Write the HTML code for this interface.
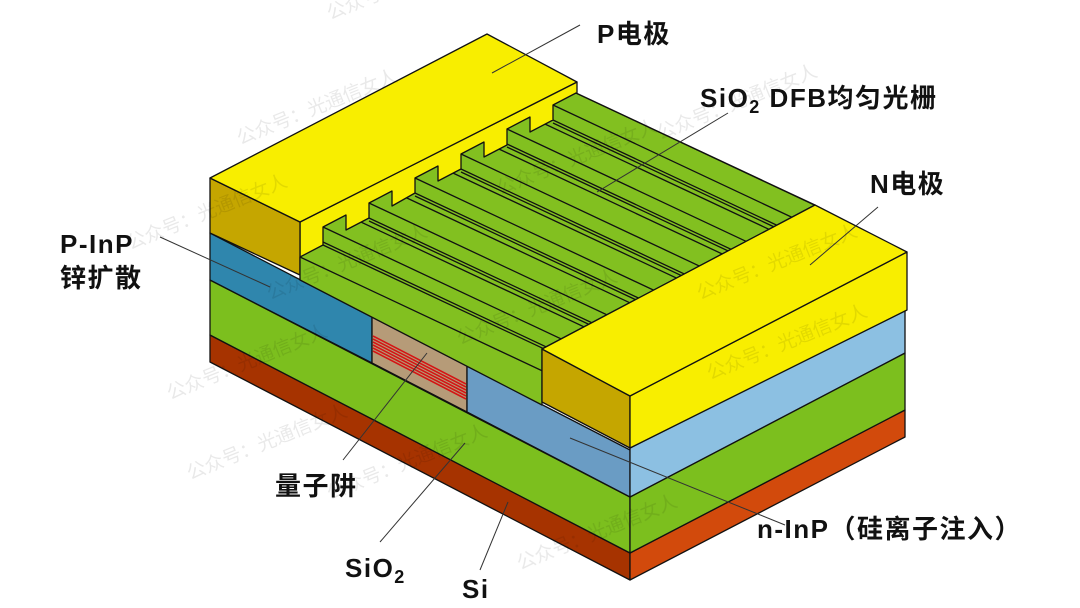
<!DOCTYPE html>
<html><head><meta charset="utf-8"><style>
html,body{margin:0;padding:0;background:#fff}
svg{display:block}
.l{font-family:"Liberation Sans","Noto Sans CJK SC",sans-serif;font-weight:bold;font-size:26px;letter-spacing:1.5px;fill:#111}
.w{font-family:"Liberation Sans","Noto Sans CJK SC",sans-serif;font-size:19px;fill:#000;opacity:0.09}
</style></head><body>
<svg width="1080" height="608" viewBox="0 0 1080 608" xmlns="http://www.w3.org/2000/svg">
<defs>
<clipPath id="g"><polygon points="300,280 300,257 323,245 323,227 346,215 346,230 369,218 369,203 392,191 392,206 415,193 415,178 438,166 438,181 461,169 461,154 484,142 484,157 507,145 507,129 530,117 530,132 553,120 553,105 576,93 815,205 542,349 542,405"/></clipPath>
</defs>
<g stroke="#111" stroke-width="1.3" stroke-linejoin="round">
<polygon points="210,335 630,553 630,580 210,362" fill="#a63300"/>
<polygon points="630,553 905,410 905,437 630,580" fill="#d24a0c"/>
<polygon points="210,280 630,497 630,553 210,335" fill="#7cbf1e"/>
<polygon points="630,497 905,353 905,410 630,553" fill="#7cbf1e"/>
<polygon points="210,233 372,317 372,363 210,280" fill="#2f86ad"/>
<polygon points="372,317 467,366 467,412 372,363" fill="#b69b78"/>
<polygon points="467,366 630,450 630,497 467,412" fill="#6a9cc4"/>
<polygon points="630,448 905,310 905,353 630,497" fill="#8cc0e2"/>
<polygon points="300,222 577,82 577,135 300,275" fill="#f8ee00"/>
<polygon points="210,178 300,222 300,275 210,233" fill="#c5a600"/>
<polygon points="300,280 300,257 323,245 323,227 346,215 346,230 369,218 369,203 392,191 392,206 415,193 415,178 438,166 438,181 461,169 461,154 484,142 484,157 507,145 507,129 530,117 530,132 553,120 553,105 576,93 815,205 542,349 542,405" fill="#82c020"/>
<g clip-path="url(#g)" fill="none">
<path d="M300,257 l400,188 M323,227 l400,188 M346,215 l400,188 M323,242 l400,188 M323,245 l400,188
M369,203 l400,188 M392,191 l400,188 M369,218 l400,188 M369,221 l400,188
M415,178 l400,188 M438,166 l400,188 M415,193 l400,188 M415,196 l400,188
M461,154 l400,188 M484,142 l400,188 M461,169 l400,188 M461,172 l400,188
M507,129 l400,188 M530,117 l400,188 M507,144 l400,188 M507,147 l400,188
M553,105 l400,188 M576,93 l400,188 M553,120 l400,188 M553,123 l400,188"/>
</g>
<polygon points="210,178 487,34 577,82 300,222" fill="#f8ee00"/>
<polygon points="542,349 630,396 630,448 542,402" fill="#c5a600"/>
<polygon points="630,396 907,252 907,310 630,448" fill="#f8ee00"/>
<polygon points="542,349 815,205 907,252 630,396" fill="#f8ee00"/>
</g>
<g stroke="#d41414" stroke-width="1.6">
<line x1="373" y1="336" x2="466" y2="384"/><line x1="373" y1="339" x2="466" y2="387"/>
<line x1="373" y1="342" x2="466" y2="390"/><line x1="373" y1="345" x2="466" y2="393"/>
<line x1="373" y1="348" x2="466" y2="396"/><line x1="373" y1="351" x2="466" y2="399"/>
</g>
<g stroke="#333" stroke-width="1">
<line x1="492" y1="73" x2="580" y2="25"/>
<line x1="597" y1="192" x2="728" y2="113"/>
<line x1="810" y1="265" x2="878" y2="207"/>
<line x1="160" y1="237" x2="270" y2="287"/>
<line x1="343" y1="460" x2="427" y2="353"/>
<line x1="380" y1="542" x2="465" y2="443"/>
<line x1="480" y1="570" x2="508" y2="502"/>
<line x1="570" y1="438" x2="785" y2="525"/>
</g>
<text class="l" x="597" y="43">P电极</text>
<text class="l" x="700" y="107">SiO<tspan font-size="18" dy="6">2</tspan><tspan dy="-6"> DFB均匀光栅</tspan></text>
<text class="l" x="870" y="193">N电极</text>
<text class="l" x="60" y="253">P-InP</text>
<text class="l" x="60" y="287">锌扩散</text>
<text class="l" x="275" y="495">量子阱</text>
<text class="l" x="345" y="577">SiO<tspan font-size="18" dy="6">2</tspan></text>
<text class="l" x="462" y="598">Si</text>
<text class="l" x="757" y="538">n-InP（硅离子注入）</text>
<g class="w">
<text x="330" y="20" transform="rotate(-22 330 20)">公众号：光通信女人</text>
<text x="240" y="145" transform="rotate(-22 240 145)">公众号：光通信女人</text>
<text x="130" y="250" transform="rotate(-22 130 250)">公众号：光通信女人</text>
<text x="500" y="195" transform="rotate(-22 500 195)">公众号：光通信女人</text>
<text x="660" y="140" transform="rotate(-22 660 140)">公众号：光通信女人</text>
<text x="270" y="300" transform="rotate(-22 270 300)">公众号：光通信女人</text>
<text x="170" y="400" transform="rotate(-22 170 400)">公众号：光通信女人</text>
<text x="700" y="300" transform="rotate(-22 700 300)">公众号：光通信女人</text>
<text x="460" y="345" transform="rotate(-22 460 345)">公众号：光通信女人</text>
<text x="190" y="480" transform="rotate(-22 190 480)">公众号：光通信女人</text>
<text x="710" y="380" transform="rotate(-22 710 380)">公众号：光通信女人</text>
<text x="330" y="500" transform="rotate(-22 330 500)">公众号：光通信女人</text>
<text x="520" y="570" transform="rotate(-22 520 570)">公众号：光通信女人</text>
</g>
</svg>
</body></html>
